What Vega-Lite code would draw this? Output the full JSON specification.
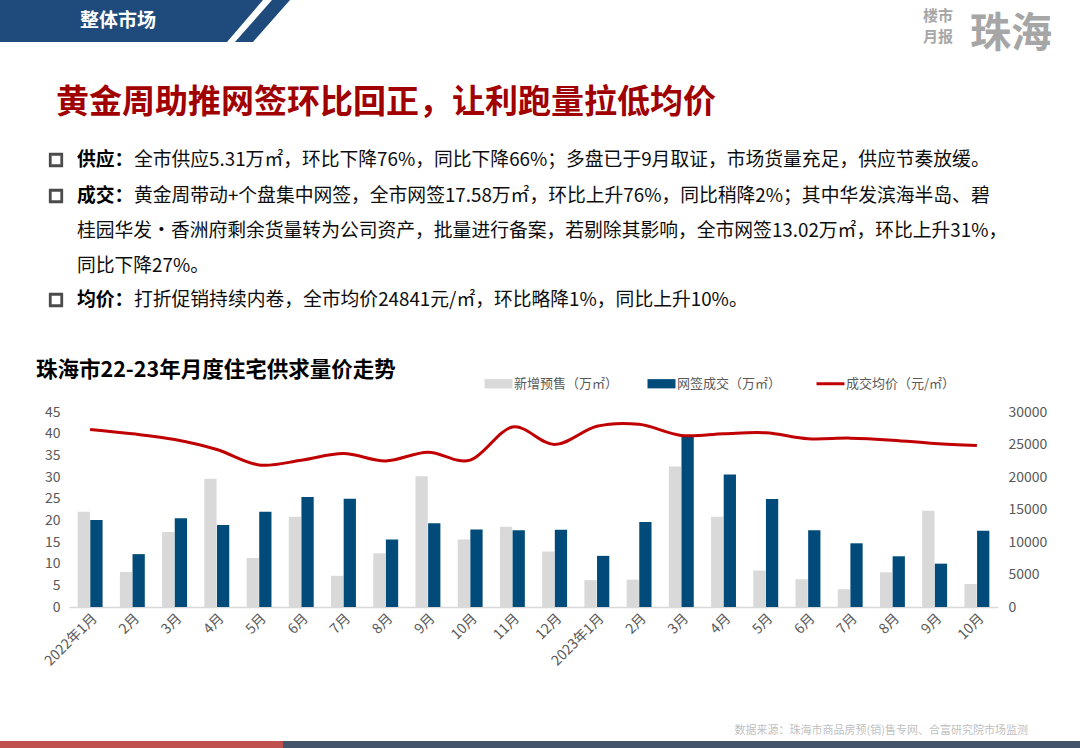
{
  "$schema": "https://vega.github.io/schema/vega-lite/v6.json",
  "width": 929,
  "height": 195,
  "autosize": {"type": "none"},
  "padding": {"left": 69, "top": 412, "right": 82, "bottom": 141},
  "background": "white",
  "config": {
    "font": "Noto Sans CJK SC",
    "view": {"stroke": null},
    "axis": {"labelFont": "Noto Sans CJK SC", "labelColor": "#595959", "labelFontSize": 14, "grid": false, "ticks": false, "title": null},
    "legend": {"labelFont": "Noto Sans CJK SC"}
  },
  "datasets": {
    "volumes": [
      {"month": "2022年1月", "series": "新增预售（万㎡）", "value": 22.0},
      {"month": "2022年1月", "series": "网签成交（万㎡）", "value": 20.1},
      {"month": "2022年2月", "series": "新增预售（万㎡）", "value": 8.1},
      {"month": "2022年2月", "series": "网签成交（万㎡）", "value": 12.2},
      {"month": "2022年3月", "series": "新增预售（万㎡）", "value": 17.3},
      {"month": "2022年3月", "series": "网签成交（万㎡）", "value": 20.5},
      {"month": "2022年4月", "series": "新增预售（万㎡）", "value": 29.6},
      {"month": "2022年4月", "series": "网签成交（万㎡）", "value": 18.9},
      {"month": "2022年5月", "series": "新增预售（万㎡）", "value": 11.3},
      {"month": "2022年5月", "series": "网签成交（万㎡）", "value": 22.0},
      {"month": "2022年6月", "series": "新增预售（万㎡）", "value": 20.8},
      {"month": "2022年6月", "series": "网签成交（万㎡）", "value": 25.4},
      {"month": "2022年7月", "series": "新增预售（万㎡）", "value": 7.2},
      {"month": "2022年7月", "series": "网签成交（万㎡）", "value": 25.0},
      {"month": "2022年8月", "series": "新增预售（万㎡）", "value": 12.4},
      {"month": "2022年8月", "series": "网签成交（万㎡）", "value": 15.6},
      {"month": "2022年9月", "series": "新增预售（万㎡）", "value": 30.2},
      {"month": "2022年9月", "series": "网签成交（万㎡）", "value": 19.3},
      {"month": "2022年10月", "series": "新增预售（万㎡）", "value": 15.6},
      {"month": "2022年10月", "series": "网签成交（万㎡）", "value": 17.9},
      {"month": "2022年11月", "series": "新增预售（万㎡）", "value": 18.5},
      {"month": "2022年11月", "series": "网签成交（万㎡）", "value": 17.7},
      {"month": "2022年12月", "series": "新增预售（万㎡）", "value": 12.8},
      {"month": "2022年12月", "series": "网签成交（万㎡）", "value": 17.8},
      {"month": "2023年1月", "series": "新增预售（万㎡）", "value": 6.2},
      {"month": "2023年1月", "series": "网签成交（万㎡）", "value": 11.8},
      {"month": "2023年2月", "series": "新增预售（万㎡）", "value": 6.3},
      {"month": "2023年2月", "series": "网签成交（万㎡）", "value": 19.6},
      {"month": "2023年3月", "series": "新增预售（万㎡）", "value": 32.4},
      {"month": "2023年3月", "series": "网签成交（万㎡）", "value": 39.6},
      {"month": "2023年4月", "series": "新增预售（万㎡）", "value": 20.8},
      {"month": "2023年4月", "series": "网签成交（万㎡）", "value": 30.6},
      {"month": "2023年5月", "series": "新增预售（万㎡）", "value": 8.4},
      {"month": "2023年5月", "series": "网签成交（万㎡）", "value": 24.9},
      {"month": "2023年6月", "series": "新增预售（万㎡）", "value": 6.4},
      {"month": "2023年6月", "series": "网签成交（万㎡）", "value": 17.7},
      {"month": "2023年7月", "series": "新增预售（万㎡）", "value": 4.1},
      {"month": "2023年7月", "series": "网签成交（万㎡）", "value": 14.7},
      {"month": "2023年8月", "series": "新增预售（万㎡）", "value": 8.0},
      {"month": "2023年8月", "series": "网签成交（万㎡）", "value": 11.7},
      {"month": "2023年9月", "series": "新增预售（万㎡）", "value": 22.2},
      {"month": "2023年9月", "series": "网签成交（万㎡）", "value": 10.0},
      {"month": "2023年10月", "series": "新增预售（万㎡）", "value": 5.31},
      {"month": "2023年10月", "series": "网签成交（万㎡）", "value": 17.58}
    ],
    "prices": [
      {"month": "2022年1月", "price": 27320},
      {"month": "2022年2月", "price": 26650},
      {"month": "2022年3月", "price": 25770},
      {"month": "2022年4月", "price": 24230},
      {"month": "2022年5月", "price": 21860},
      {"month": "2022年6月", "price": 22580},
      {"month": "2022年7月", "price": 23610},
      {"month": "2022年8月", "price": 22480},
      {"month": "2022年9月", "price": 23820},
      {"month": "2022年10月", "price": 22600},
      {"month": "2022年11月", "price": 27680},
      {"month": "2022年12月", "price": 25000},
      {"month": "2023年1月", "price": 27800},
      {"month": "2023年2月", "price": 28100},
      {"month": "2023年3月", "price": 26390},
      {"month": "2023年4月", "price": 26650},
      {"month": "2023年5月", "price": 26800},
      {"month": "2023年6月", "price": 25880},
      {"month": "2023年7月", "price": 25980},
      {"month": "2023年8月", "price": 25670},
      {"month": "2023年9月", "price": 25150},
      {"month": "2023年10月", "price": 24841}
    ],
    "slide": [
      {"item": "band", "row": 0, "c1": 0, "c2": 9},
      {"item": "band", "row": 5, "c1": 0, "c2": 6},
      {"item": "stripe", "row": 0, "c1": 10, "c2": 12},
      {"item": "stripe", "row": 5, "c1": 7, "c2": 8},
      {"item": "footRed", "row": 14, "row2": 15, "c1": 0, "c2": 11},
      {"item": "footNavy", "row": 14, "row2": 15, "c1": 11, "c2": 16},
      {"item": "header", "text": "整体市场", "row": 2, "c1": 4},
      {"item": "logoSmall", "text": "楼市", "row": 1, "c1": 13},
      {"item": "logoSmall", "text": "月报", "row": 4, "c1": 13},
      {"item": "logoBig", "text": "珠海", "row": 3, "c1": 14},
      {"item": "headline", "text": "黄金周助推网签环比回正，让利跑量拉低均价", "row": 6, "c1": 2},
      {"item": "bullet", "row": 7, "c1": 2},
      {"item": "bullet", "row": 8, "c1": 2},
      {"item": "bullet", "row": 11, "c1": 2},
      {"item": "lead", "text": "供应：", "row": 7, "c1": 3},
      {"item": "lead", "text": "成交：", "row": 8, "c1": 3},
      {"item": "lead", "text": "均价：", "row": 11, "c1": 3},
      {"item": "body", "text": "全市供应5.31万㎡，环比下降76%，同比下降66%；多盘已于9月取证，市场货量充足，供应节奏放缓。", "row": 7, "c1": 5},
      {"item": "body", "text": "黄金周带动+个盘集中网签，全市网签17.58万㎡，环比上升76%，同比稍降2%；其中华发滨海半岛、碧", "row": 8, "c1": 5},
      {"item": "body", "text": "桂园华发·香洲府剩余货量转为公司资产，批量进行备案，若剔除其影响，全市网签13.02万㎡，环比上升31%，", "row": 9, "c1": 3},
      {"item": "body", "text": "同比下降27%。", "row": 10, "c1": 3},
      {"item": "body", "text": "打折促销持续内卷，全市均价24841元/㎡，环比略降1%，同比上升10%。", "row": 11, "c1": 5},
      {"item": "chartTitle", "text": "珠海市22-23年月度住宅供求量价走势", "row": 12, "c1": 1},
      {"item": "source", "text": "数据来源：珠海市商品房预(销)售专网、合富研究院市场监测", "row": 13, "c1": 15}
    ]
  },
  "layer": [
    {
      "data": {"name": "slide"},
      "encoding": {
        "x": {"field": "c1", "type": "quantitative", "axis": null,
              "scale": {"domain": [0,1,2,3,4,5,6,7,8,9,10,11,12,13,14,15,16], "range": [-69,-33,-13,8,11,65,158,166,184,194,203,214,221,854,901,959,1011], "zero": false, "nice": false}},
        "y": {"field": "row", "type": "quantitative", "axis": null,
              "scale": {"domain": [0,1,2,3,4,5,6,7,8,9,10,11,12,13,14,15], "range": [-412,-396,-391,-377,-375,-370,-309,-252,-216,-181,-146,-112,-41,319,329,336], "zero": false, "nice": false}}
      },
      "layer": [
        {
          "transform": [{"filter": "datum.item === 'band' || datum.item === 'stripe'"}],
          "mark": {"type": "area", "orient": "horizontal", "color": "#1F4A7C"},
          "encoding": {"x2": {"field": "c2"}, "detail": {"field": "item"}}
        },
        {
          "transform": [{"filter": "datum.item === 'footRed'"}],
          "mark": {"type": "rect", "color": "#C0504D"},
          "encoding": {"x2": {"field": "c2"}, "y2": {"field": "row2"}}
        },
        {
          "transform": [{"filter": "datum.item === 'footNavy'"}],
          "mark": {"type": "rect", "color": "#44546A"},
          "encoding": {"x2": {"field": "c2"}, "y2": {"field": "row2"}}
        },
        {
          "transform": [{"filter": "datum.item === 'header'"}],
          "mark": {"type": "text", "align": "left", "baseline": "middle", "fontSize": 19, "fontWeight": "bold", "color": "#FFFFFF"},
          "encoding": {"text": {"field": "text"}}
        },
        {
          "transform": [{"filter": "datum.item === 'logoSmall'"}],
          "mark": {"type": "text", "align": "left", "baseline": "middle", "fontSize": 15, "fontWeight": "bold", "color": "#A6A6A6"},
          "encoding": {"text": {"field": "text"}}
        },
        {
          "transform": [{"filter": "datum.item === 'logoBig'"}],
          "mark": {"type": "text", "align": "left", "baseline": "middle", "fontSize": 41, "fontWeight": "bold", "color": "#A6A6A6"},
          "encoding": {"text": {"field": "text"}}
        },
        {
          "transform": [{"filter": "datum.item === 'headline'"}],
          "mark": {"type": "text", "align": "left", "baseline": "middle", "fontSize": 33, "fontWeight": "bold", "color": "#A00000"},
          "encoding": {"text": {"field": "text"}}
        },
        {
          "transform": [{"filter": "datum.item === 'bullet'"}],
          "mark": {"type": "point", "shape": "square", "filled": false, "size": 132, "strokeWidth": 2.8, "color": "#000000"}
        },
        {
          "transform": [{"filter": "datum.item === 'lead'"}],
          "mark": {"type": "text", "align": "left", "baseline": "middle", "fontSize": 18.8, "fontWeight": "bold", "color": "#000000"},
          "encoding": {"text": {"field": "text"}}
        },
        {
          "transform": [{"filter": "datum.item === 'body'"}],
          "mark": {"type": "text", "align": "left", "baseline": "middle", "fontSize": 18.8, "color": "#0D0D0D"},
          "encoding": {"text": {"field": "text"}}
        },
        {
          "transform": [{"filter": "datum.item === 'chartTitle'"}],
          "mark": {"type": "text", "align": "left", "baseline": "middle", "fontSize": 21.5, "fontWeight": "bold", "color": "#000000"},
          "encoding": {"text": {"field": "text"}}
        },
        {
          "transform": [{"filter": "datum.item === 'source'"}],
          "mark": {"type": "text", "align": "right", "baseline": "middle", "fontSize": 11, "color": "#BFBFBF"},
          "encoding": {"text": {"field": "text"}}
        }
      ]
    },
    {
      "layer": [
        {
          "data": {"name": "volumes"},
          "mark": {"type": "bar"},
          "encoding": {
            "x": {"field": "month", "type": "nominal", "sort": null,
                  "scale": {"paddingInner": 0.41, "paddingOuter": 0.205},
                  "axis": {"orient": "bottom", "labelAngle": -45, "domain": true, "domainColor": "#D9D9D9", "domainWidth": 1.5, "labelPadding": 4,
                           "labelExpr": "indexof(datum.value, '年1月') > 0 ? datum.value : substring(datum.value, 5)"}},
            "xOffset": {"field": "series", "type": "nominal", "scale": {"domain": ["新增预售（万㎡）", "网签成交（万㎡）"], "paddingInner": 0.03}},
            "y": {"field": "value", "type": "quantitative", "scale": {"domain": [0, 45], "nice": false},
                  "axis": {"orient": "left", "values": [0,5,10,15,20,25,30,35,40,45], "domain": false, "labelPadding": 9}},
            "color": {"field": "series", "type": "nominal",
                      "scale": {"domain": ["新增预售（万㎡）", "网签成交（万㎡）", "成交均价（元/㎡）"], "range": ["#D9D9D9", "#004B7A", "#C00000"]},
                      "legend": {"orient": "none", "legendX": 423, "legendY": -35, "direction": "horizontal", "title": null,
                                 "labelFontSize": 13, "labelColor": "#595959", "symbolSize": 784, "labelOffset": 9, "columnPadding": 28,
                                 "encode": {"symbols": {"update": {
                                   "shape": {"signal": "datum.value === '成交均价（元/㎡）' ? 'stroke' : 'M-1,-0.33H1V0.33H-1Z'"},
                                   "fill": {"signal": "datum.value === '成交均价（元/㎡）' ? 'transparent' : scale('color', datum.value)"},
                                   "stroke": {"signal": "scale('color', datum.value)"},
                                   "strokeWidth": {"signal": "datum.value === '成交均价（元/㎡）' ? 3 : 0"},
                                   "opacity": {"value": 1}
                                 }}}}}
          }
        },
        {
          "data": {"name": "prices"},
          "mark": {"type": "line", "interpolate": "cardinal", "strokeWidth": 3},
          "encoding": {
            "x": {"field": "month", "type": "nominal", "sort": null},
            "y": {"field": "price", "type": "quantitative", "scale": {"domain": [0, 30000], "nice": false},
                  "axis": {"orient": "right", "values": [0,5000,10000,15000,20000,25000,30000], "domain": false, "labelPadding": 10, "format": "d"}},
            "color": {"datum": "成交均价（元/㎡）"}
          }
        }
      ],
      "resolve": {"scale": {"y": "independent"}}
    }
  ],
  "resolve": {"scale": {"x": "independent", "y": "independent"}}
}
